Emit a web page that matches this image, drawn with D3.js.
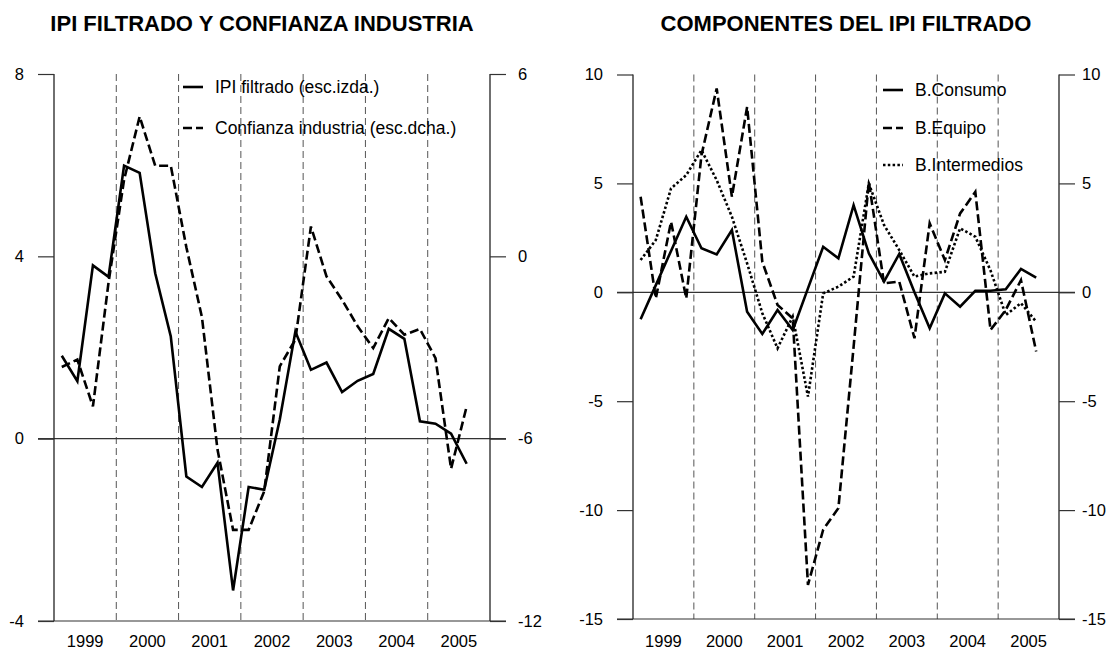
<!DOCTYPE html>
<html>
<head>
<meta charset="utf-8">
<script src="https://cdn.jsdelivr.net/npm/d3@7"></script>
<style>
body { margin: 0; background: #fff; }
text { font-family: Arial, "Liberation Sans", sans-serif; fill: #000; }
</style>
</head>
<body>
<svg id="grafico" width="1120" height="653"></svg>
<script>
// data (quarterly, 1999Q1 - 2005Q3)
var years = [1999, 2000, 2001, 2002, 2003, 2004, 2005];
var ipiFiltrado = [1.82, 1.26, 3.80, 3.55, 5.99, 5.83, 3.63, 2.24, -0.83, -1.06, -0.53, -3.33, -1.06, -1.12,
                   0.42, 2.35, 1.51, 1.67, 1.02, 1.27, 1.42, 2.41, 2.19, 0.38, 0.33, 0.11, -0.55];
var confianzaIndustria = [-3.64, -3.4, -4.94, -0.87, 2.52, 4.6, 2.98, 2.98, 0.3, -2.0, -6.36, -9.0, -9.0, -7.73,
                          -3.62, -2.74, 0.98, -0.66, -1.43, -2.3, -3.02, -2.03, -2.58, -2.39, -3.35, -6.99, -4.94];
var bConsumo = [-1.24, 0.33, 1.9, 3.47, 2.02, 1.74, 2.86, -0.89, -1.91, -0.81, -1.73, 0.18, 2.09, 1.56,
                4.0, 1.79, 0.49, 1.76, 0.0, -1.65, -0.05, -0.66, 0.07, 0.07, 0.14, 1.07, 0.67];
var bEquipo = [4.39, -0.28, 3.24, -0.28, 6.3, 9.36, 4.39, 8.51, 1.4, -0.58, -1.2, -13.43, -10.9, -9.91,
               -2.5, 5.07, 0.41, 0.49, -2.11, 3.17, 1.48, 3.62, 4.61, -1.73, -0.81, 0.56, -2.72];
var bIntermedios = [1.48, 2.4, 4.77, 5.38, 6.53, 5.15, 3.47, 1.33, -0.96, -2.57, -1.12, -4.79, -0.05, 0.26,
                    0.72, 5.0, 3.09, 1.94, 0.72, 0.87, 0.94, 2.94, 2.55, 1.0, -1.04, -0.5, -1.35];
var ticksIzda = [-4, 0, 4, 8];
var ticksDcha = [-12, -6, 0, 6];
var ticksComp = [-15, -10, -5, 0, 5, 10];

var svg = d3.select("svg#grafico");

// quarter index -> fractional year
function q(i) { return years[0] + (i + 0.5) / 4; }
// plain hyphen for negatives, like the original
function fmt(d) { return String(d); }

var DASH = "9,4", DOT = "2.5,2.3";

function panel(o) {
  var g = svg.append("g");
  var x = d3.scaleLinear().domain([years[0], years[years.length - 1] + 1]).range([o.x0, o.x1]);

  // title
  g.append("text")
    .attr("x", o.titleX).attr("y", 31)
    .attr("text-anchor", "middle")
    .style("font-size", "22px").style("font-weight", "bold")
    .text(o.title);

  // year separators
  g.selectAll(".grid").data(years.slice(1)).enter().append("line")
    .attr("x1", function(d) { return x(d); }).attr("x2", function(d) { return x(d); })
    .attr("y1", o.yL.range()[1]).attr("y2", o.yL.range()[0])
    .attr("stroke", "#555").attr("stroke-width", 1).attr("stroke-dasharray", "7,4");

  // horizontal lines: zero and bottom
  [o.yL(0), o.yL.range()[0]].forEach(function(yy) {
    g.append("line").attr("x1", o.x0 - 16).attr("x2", o.x1 + 16)
      .attr("y1", yy).attr("y2", yy)
      .attr("stroke", "#333").attr("stroke-width", 1.2);
  });

  // vertical axes
  [o.x0, o.x1].forEach(function(xx) {
    g.append("line").attr("x1", xx).attr("x2", xx)
      .attr("y1", o.yL.range()[1]).attr("y2", o.yL.range()[0])
      .attr("stroke", "#222").attr("stroke-width", 1.3);
  });

  var axL = g.append("g").attr("transform", "translate(" + o.x0 + ",0)")
    .call(d3.axisLeft(o.yL).tickValues(o.ticksL).tickFormat(fmt).tickSize(16).tickPadding(14));
  var axR = g.append("g").attr("transform", "translate(" + o.x1 + ",0)")
    .call(d3.axisRight(o.yR).tickValues(o.ticksR).tickFormat(fmt).tickSize(16).tickPadding(o.padR));
  [axL, axR].forEach(function(a) {
    a.select(".domain").remove();
    a.selectAll("line").attr("stroke", "#333").attr("stroke-width", 1.2);
    a.selectAll("text").style("font-size", "16.5px").style("font-family", "Arial, 'Liberation Sans', sans-serif");
  });

  // year labels
  g.selectAll(".yr").data(years).enter().append("text")
    .attr("x", function(d) { return x(d + 0.5); })
    .attr("y", 647)
    .attr("text-anchor", "middle")
    .style("font-size", "16.5px")
    .text(function(d) { return d; });

  // series
  o.series.forEach(function(s) {
    var line = d3.line()
      .x(function(d, i) { return x(q(i)); })
      .y(function(d) { return s.scale(d); });
    g.append("path").datum(s.values)
      .attr("d", line)
      .attr("fill", "none").attr("stroke", "#000")
      .attr("stroke-width", 2.6)
      .attr("stroke-linejoin", "miter")
      .attr("stroke-dasharray", s.dash);
  });

  // legend
  var leg = g.selectAll(".leg").data(o.series).enter().append("g")
    .attr("transform", function(d, i) { return "translate(" + o.legX + "," + o.legY[i] + ")"; });
  leg.append("line").attr("x1", 0).attr("x2", 20).attr("y1", 0).attr("y2", 0)
    .attr("stroke", "#000").attr("stroke-width", 2.6)
    .attr("stroke-dasharray", function(d) { return d.dash; });
  leg.append("text").attr("x", 32).attr("dy", "0.35em")
    .style("font-size", "17.5px")
    .text(function(d) { return d.name; });
}

// left panel
var yIzda = d3.scaleLinear().domain([-4, 8]).range([621, 74]);
var yDcha = d3.scaleLinear().domain([-12, 6]).range([621, 74]);
panel({
  title: "IPI FILTRADO Y CONFIANZA INDUSTRIA", titleX: 262,
  x0: 54, x1: 490, yL: yIzda, yR: yDcha, ticksL: ticksIzda, ticksR: ticksDcha, padR: 12,
  legX: 183, legY: [87, 128],
  series: [
    { name: "IPI filtrado (esc.izda.)", values: ipiFiltrado, scale: yIzda, dash: null },
    { name: "Confianza industria (esc.dcha.)", values: confianzaIndustria, scale: yDcha, dash: DASH }
  ]
});

// right panel
var yComp = d3.scaleLinear().domain([-15, 10]).range([619, 74.5]);
panel({
  title: "COMPONENTES DEL IPI FILTRADO", titleX: 846,
  x0: 633, x1: 1059, yL: yComp, yR: yComp, ticksL: ticksComp, ticksR: ticksComp, padR: 7,
  legX: 883, legY: [90, 128, 165],
  series: [
    { name: "B.Consumo", values: bConsumo, scale: yComp, dash: null },
    { name: "B.Equipo", values: bEquipo, scale: yComp, dash: DASH },
    { name: "B.Intermedios", values: bIntermedios, scale: yComp, dash: DOT }
  ]
});
</script>
</body>
</html>
